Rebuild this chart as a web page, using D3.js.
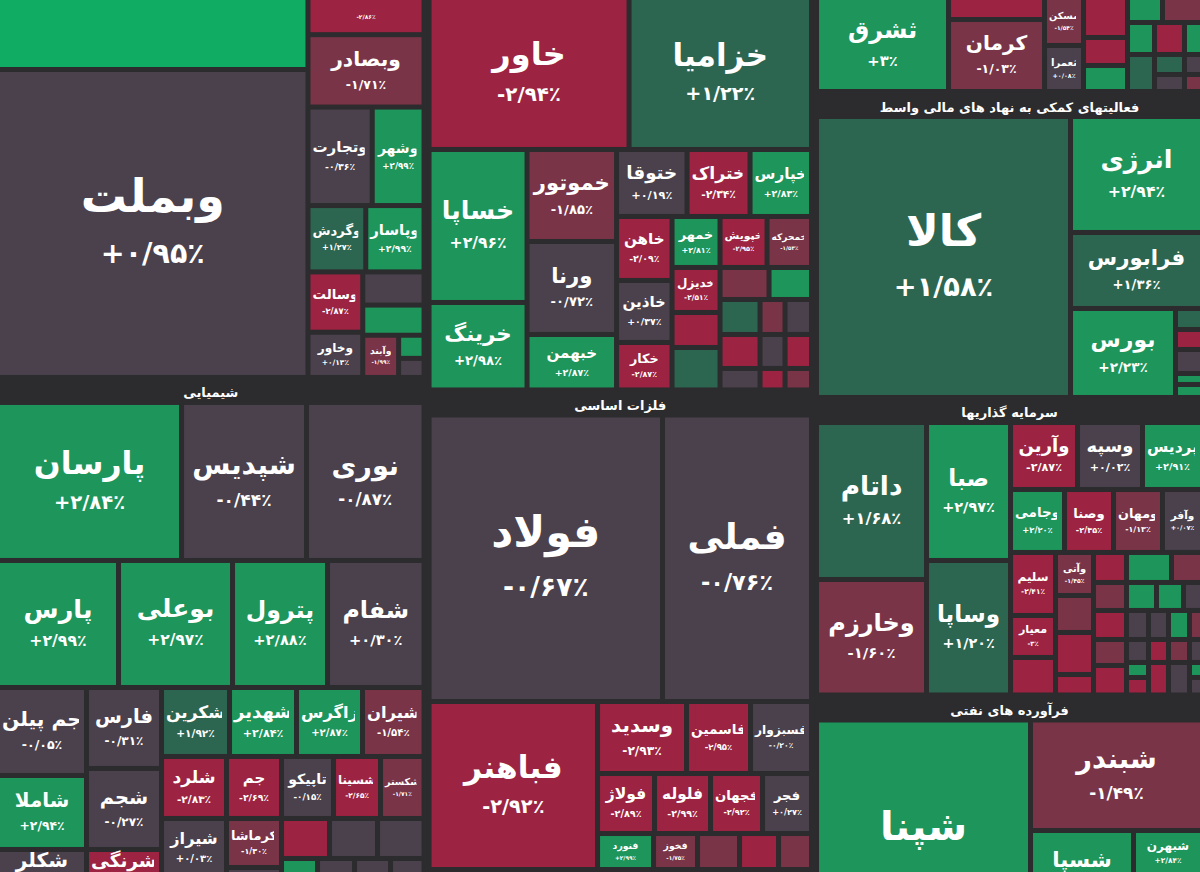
<!DOCTYPE html>
<html><head><meta charset="utf-8">
<script src="https://cdn.jsdelivr.net/npm/d3@7"></script>
<style>
html,body{margin:0;padding:0;background:#2c2b2d;overflow:hidden}
svg{display:block}
text{font-family:"DejaVu Sans",sans-serif;font-weight:bold;fill:#ffffff}
</style></head><body>
<svg id="chart" width="1200" height="872"></svg>
<script>
// ---------- sectors (size = share of the visible map) ----------
const sectorKeys   = ['banks','chem','auto','metals','spacer','ctop','mali','invest','petro'];
const sectorTitles = [null,'شیمیایی',null,'فلزات اساسی',null,null,'فعالیتهای کمکی به نهاد های مالی واسط','سرمایه گذاریها','فرآورده های نفتی'];
const sectorSizes  = [166.1, 260.2, 154.0, 185.8, 43.0, 38.7, 119.6, 116.3, 111.6];
const sectorLayout = ['h', ['v','banks','chem'], ['v','auto','metals','spacer'], ['v','ctop','mali','invest','petro']];

// ---------- stocks: [symbol, % change, size]; groups: ['h'|'v', ...] ----------
const banks = ['h',
  ['v', [null, 3.5, 22320], ['وبملت', 0.95, 95480]],
  ['v',
    ['', -2.86, 4310],
    ['وبصادر', -1.71, 8388],
    ['h', ['وتجارت', -0.36, 6321], ['وشهر', 2.99, 5096]],
    ['h', ['وگردش', 1.27, 3828], ['وپاسار', 2.99, 3861]],
    ['h',
      ['v', ['وسالت', -2.87, 3300], ['وخاور', 0.13, 2475]],
      ['v', [null, 0.1, 2030], [null, 2.9, 1845],
        ['h', ['وآبند', -1.99, 1512], ['v', [null, 2.9, 587], [null, 0.1, 485]]]]
    ]
  ]
];

const chem = ['v',
  ['h', ['پارسان', 2.84, 29072], ['شپدیس', -0.44, 19750], ['نوری', -0.87, 18565]],
  ['h', ['پارس', 2.99, 15367], ['بوعلی', 2.97, 14478], ['پترول', 2.88, 12065], ['شفام', 0.30, 12256]],
  ['h',
    ['v', ['جم پیلن', -0.05, 7832], ['شاملا', 2.94, 6586], ['شکلر', 0.10, 6942], [null, 0.1, 4717]],
    ['v', ['فارس', -0.31, 6075], ['شجم', -0.27, 6075], ['شرنگی', -2.90, 5850], [null, 0.1, 3975]],
    ['v',
      ['h', ['شکرین', 1.92, 4692], ['شهدیر', 2.84, 4623], ['زاگرس', 2.87, 4554], ['شیران', -1.54, 4244]],
      ['h', ['شلرد', -2.83, 4030], ['جم', -2.69, 3410], ['تاپیکو', -0.15, 3224], ['شسینا', -2.65, 2914], ['شکستر', -1.71, 2697]],
      ['h',
        ['v', ['شیراز', 0.03, 3835], [null, 0.1, 6695]],
        ['v', ['کرماشا', -1.30, 2695], [null, 0.1, 6215]],
        ['v',
          ['h', [null, -2.9, 1920], [null, 0.1, 1920], [null, 0.1, 1860]],
          ['h', [null, 2.9, 1368], [null, 0.1, 1406], [null, 0.1, 1368], [null, 0.1, 1273]],
          [null, 0.1, 11970]
        ]
      ]
    ]
  ]
];

const auto = ['v',
  ['h', ['خاور', -2.94, 30400], ['خزامیا', 1.22, 27740]],
  ['h',
    ['v', ['خساپا', 2.96, 14994], ['خرینگ', 2.98, 8575]],
    ['v', ['خموتور', -1.85, 8234], ['ورنا', -0.72, 8324], ['خبهمن', 2.87, 4967]],
    ['v',
      ['h', ['ختوقا', 0.19, 4724], ['ختراک', -2.34, 4221], ['خپارس', 2.83, 4121]],
      ['h',
        ['v', ['خاهن', -2.09, 3552], ['خاذین', 0.37, 3441], ['خکار', -2.87, 2636]],
        ['v',
          ['h', ['خمهر', 2.81, 2448], ['خپویش', -2.95, 2397], ['خمحرکه', -1.53, 2270]],
          ['h',
            ['v', ['خدیزل', -2.51, 2160], [null, -2.9, 1680], [null, 1.5, 2040]],
            ['v',
              ['h', [null, -1.5, 1568], [null, 2.9, 1360]],
              ['h', [null, 1.5, 1400], [null, -1.5, 875], [null, 0.1, 928]],
              ['h', ['v', [null, -2.9, 1360], [null, 0.1, 860]],
                    ['v', [null, 0.1, 850], [null, -2.9, 538]],
                    ['v', [null, -2.9, 901], [null, -1.5, 570]]]
            ]
          ]
        ]
      ]
    ]
  ]
];

const metals = ['v',
  ['h', ['فولاد', -0.67, 66898], ['فملی', -0.76, 42689]],
  ['h', ['فباهنر', -2.92, 28308],
    ['v',
      ['h', ['وسدید', -2.93, 6408], ['فاسمین', -2.95, 4608], ['فسبزوار', -0.20, 4392]],
      ['h', ['فولاژ', -2.89, 3420], ['فلوله', -2.99, 3360], ['فجهان', -2.92, 3120], ['فجر', 0.27, 2940]],
      ['h', ['فنورد', 2.99, 2016], ['فخوز', -1.75, 1584], [null, -1.5, 1512], [null, -2.9, 1404], [null, -1.5, 1188]]
    ]
  ]
];

const ctop = ['h',
  ['ثشرق', 3.00, 12408],
  ['v', [null, -2.9, 2112], ['کرمان', -1.03, 6912]],
  ['v', ['مسکن', -1.54, 1872], ['ثعمرا', 0.08, 1794]],
  ['v', [null, -2.9, 1760], [null, -2.9, 1232], [null, 2.9, 1144]],
  ['v',
    ['h', [null, 2.9, 875], [null, -1.5, 1000]],
    ['h', [null, 2.9, 864], [null, -2.9, 960], [null, 2.9, 576]],
    ['h', [null, 1.5, 999], ['v', [null, 1.5, 600], [null, 0.1, 510]], ['v', [null, 0.1, 360], [null, -1.5, 306]]]
  ]
];

const mali = ['h',
  ['کالا', 1.58, 71374],
  ['v', ['انرژی', 2.94, 15312], ['فرابورس', 1.36, 10032],
    ['h', ['بورس', 2.23, 9345],
      ['v', [null, 1.5, 567], [null, -2.9, 540], [null, 0.1, 648], [null, 2.9, 297], [null, 2.9, 351]]]
  ]
];

const invest = ['h',
  ['v', ['داتام', 1.68, 17270], ['وخارزم', -1.60, 12705]],
  ['v', ['صبا', 2.97, 11592], ['وساپا', 1.20, 11298]],
  ['v',
    ['h', ['وآرین', -2.87, 4489], ['وسپه', 0.02, 4355], ['پردیس', 2.91, 4020]],
    ['h', ['وجامی', 2.20, 3402], ['وصنا', -2.35, 3087], ['ومهان', -1.13, 3087], ['وآفر', 0.07, 2520]],
    ['h',
      ['v', ['سلیم', -2.41, 2835], ['معیار', -3.00, 1890], [null, -2.9, 1688]],
      ['v', ['وآتی', -1.45, 1634], [null, -1.5, 1406], [null, -2.9, 1596], [null, -2.9, 779]],
      ['h',
        ['v', [null, -2.9, 990], [null, -1.5, 924], [null, -2.9, 957], [null, -1.5, 858], [null, -2.9, 974]],
        ['v',
          ['h', [null, 2.9, 1350], [null, -1.5, 930]],
          ['h', [null, 2.9, 840], [null, 2.9, 756], [null, 0.1, 532]],
          ['h', [null, 0.1, 638], [null, 0.1, 580], [null, 2.9, 609], [null, -1.5, 377]],
          ['h', [null, 0.1, 506], [null, -2.9, 460], [null, -1.5, 483], [null, 0.1, 299]],
          ['h', ['v', [null, 2.9, 330], [null, -2.9, 385]], [null, -2.9, 650], [null, 0.1, 683],
                ['v', [null, 2.9, 195], [null, 0.1, 228]]]
        ]
      ]
    ]
  ]
];

const petro = ['h',
  ['شپنا', 2.90, 55747],
  ['v', ['شبندر', -1.49, 19006],
    ['h',
      ['v', ['شسپا', 2.90, 8549], [null, 0.1, 6901]],
      ['v', ['شبهرن', 2.84, 3105], [null, 0.1, 7245]]
    ]
  ]
];

const sectorData = {banks, chem, auto, metals, ctop, mali, invest, petro};

// ---------- helpers ----------
const color = d3.scaleThreshold()
  .domain([-2, -1, 1, 2, 3.2])
  .range(['#9c2341', '#7a3448', '#4a414c', '#2d6650', '#1d955b', '#10ac64']);

const tile = (node, x0, y0, x1, y1) =>
  (node.data.o === 'v' ? d3.treemapSlice : d3.treemapDice)(node, x0, y0, x1, y1);

function toTree(a) {
  if (a[0] === 'h' || a[0] === 'v') return {o: a[0], children: a.slice(1).map(toTree)};
  return {name: a[0], pct: a[1], size: a[2]};
}
function topTree(a) {
  if (Array.isArray(a)) return {o: a[0], children: a.slice(1).map(topTree)};
  const i = sectorKeys.indexOf(a);
  return {key: a, title: sectorTitles[i], size: sectorSizes[i]};
}
const fa = '۰۱۲۳۴۵۶۷۸۹';
function fmt(p) {
  const s = p > 0 ? '+' : (p < 0 ? '-' : '');
  const a = Math.abs(p);
  let t = Math.abs(a - Math.round(a)) < 1e-9 ? String(Math.round(a)) : a.toFixed(2);
  t = t.replace('.', '/').replace(/[0-9]/g, d => fa[+d]);
  return s + t + '٪';
}

// ---------- layout ----------
const W = 1210, H = 988, OFF = 5, VIEW_H = 872;
const LIMIT = VIEW_H + OFF - 2;   // bottom limit for text, in group coordinates
const svg = d3.select('#chart');
const g = svg.append('g').attr('transform', `translate(${-OFF},${-OFF})`);
const defs = svg.append('defs');

const topRoot = d3.treemap().size([W, H]).tile(tile)(
  d3.hierarchy(topTree(sectorLayout)).sum(d => d.size || 0));

let cid = 0;
topRoot.leaves().forEach(sec => {
  const key = sec.data.key;
  const data = sectorData[key];
  if (!data) return;
  const hdr = sec.data.title ? 25 : 5;
  const ix0 = sec.x0 + 5, iy0 = sec.y0 + hdr, ix1 = sec.x1 - 5, iy1 = sec.y1 - 5;

  if (sec.data.title) {
    g.append('text')
      .attr('x', (sec.x0 + sec.x1) / 2)
      .attr('y', sec.y0 + 13)
      .attr('text-anchor', 'middle')
      .attr('dominant-baseline', 'central')
      .attr('font-size', 13)
      .text(sec.data.title);
  }

  const root = d3.treemap().size([ix1 - ix0, iy1 - iy0]).paddingInner(5).tile(tile)(
    d3.hierarchy(toTree(data)).sum(d => d.size || 0));

  const sg = g.append('g').attr('transform', `translate(${ix0},${iy0})`);
  root.leaves().forEach(leaf => {
    const d = leaf.data;
    const w = leaf.x1 - leaf.x0, h = leaf.y1 - leaf.y0;
    sg.append('rect')
      .attr('x', leaf.x0).attr('y', leaf.y0)
      .attr('width', Math.max(0, w)).attr('height', Math.max(0, h))
      .attr('fill', color(d.pct));
    if (d.name === null) return;

    const id = 'clip' + (cid++);
    defs.append('clipPath').attr('id', id)
      .append('rect')
      .attr('x', ix0 - OFF + leaf.x0).attr('y', iy0 - OFF + leaf.y0)
      .attr('width', w).attr('height', h);
    const lg = g.append('g').attr('clip-path', `url(#${id})`);
    const cx = ix0 + (leaf.x0 + leaf.x1) / 2;
    const cy = iy0 + (leaf.y0 + leaf.y1) / 2;
    let fs = Math.min(0.3 * Math.min(w, h), 0.13 * Math.sqrt(w * h) + 10, 46);
    fs = Math.max(fs, 9);

    if (d.name) {
      const t = lg.append('text')
        .attr('x', cx).attr('text-anchor', 'middle')
        .attr('dominant-baseline', 'central')
        .attr('font-size', fs).text(d.name);
      const len = t.node().getComputedTextLength();
      if (len > w - 4) {
        fs = Math.max(8, fs * (w - 4) / len);
        t.attr('font-size', fs);
      }
      let ny = cy - 0.6 * fs;
      if (ny + fs * 0.5 > LIMIT) ny = LIMIT - fs * 0.5;
      t.attr('y', ny);
      const pf = fs * 0.62;
      const py = cy + 0.66 * fs;
      if (py + pf * 0.5 <= LIMIT) {
        const pt = lg.append('text')
          .attr('x', cx).attr('y', py)
          .attr('text-anchor', 'middle')
          .attr('dominant-baseline', 'central')
          .attr('font-size', pf).text(fmt(d.pct));
        const pl = pt.node().getComputedTextLength();
        if (pl > w - 4) pt.attr('font-size', Math.max(7, pf * (w - 4) / pl));
      }
    } else {
      lg.append('text')
        .attr('x', cx).attr('y', cy)
        .attr('text-anchor', 'middle')
        .attr('dominant-baseline', 'central')
        .attr('font-size', fs * 0.62).text(fmt(d.pct));
    }
  });
});
</script>
</body></html>
